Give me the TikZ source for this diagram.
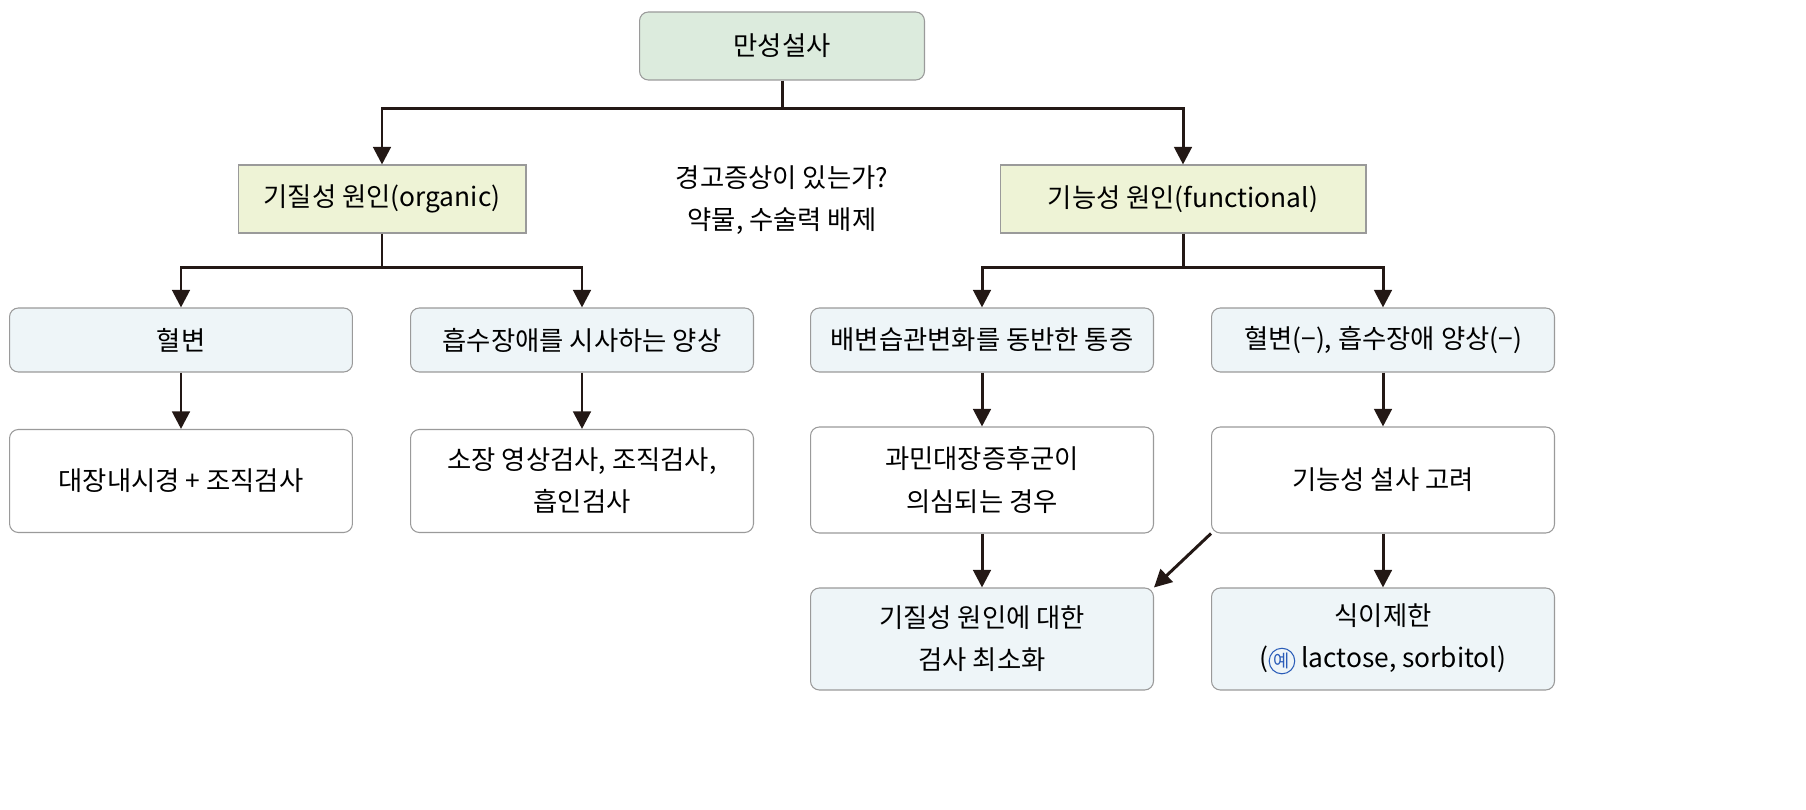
\documentclass[tikz,border=0pt]{standalone}
\usepackage{fontspec}
\setmainfont{Noto Sans CJK KR}
\usetikzlibrary{arrows.meta,calc}
\definecolor{topgreen}{HTML}{DCEBDD}
\definecolor{causeyel}{HTML}{EEF3D6}
\definecolor{stepblue}{HTML}{EEF5F8}
\definecolor{linedark}{HTML}{231815}
\definecolor{boxgray}{HTML}{9A9A9A}
\definecolor{markblue}{HTML}{2A5CB8}
\newsavebox\exmark
\savebox\exmark{\tikz[baseline=(m.base)]\node[circle,draw=markblue,text=markblue,line width=0.6pt,inner sep=0.6pt,font=\fontsize{10}{10}\selectfont] (m) {예};}
\tikzset{
  box/.style={draw=boxgray,line width=0.6pt,rounded corners=5pt,align=center,
    font=\fontsize{15}{24}\selectfont,inner sep=0pt},
  flow/.style={draw=linedark,line width=1.7pt,-{Triangle[length=10pt,width=10pt]}}
}
\begin{document}
\begin{tikzpicture}[x=0.02cm,y=-0.02cm]
  \useasboundingbox (0,0) rectangle (1806,810);
  % top and causes
  \node[box,fill=topgreen,minimum width=5.7cm,minimum height=1.36cm] (top) at (782,46) {만성설사};
  \node[box,fill=causeyel,rounded corners=0pt,minimum width=5.76cm,minimum height=1.36cm] (org) at (382,199) {기질성 원인(organic)};
  \node[box,fill=causeyel,rounded corners=0pt,minimum width=7.32cm,minimum height=1.36cm] (fun) at (1183,199) {기능성 원인(functional)};
  \node[align=center,font=\fontsize{15}{24}\selectfont] (warn) at (782,200) {경고증상이 있는가?\\약물, 수술력 배제};
  % second row
  \node[box,fill=stepblue,minimum width=6.86cm,minimum height=1.28cm] (blood) at (181,340) {혈변};
  \node[box,fill=stepblue,minimum width=6.86cm,minimum height=1.28cm] (absorb) at (582,340) {흡수장애를 시사하는 양상};
  \node[box,fill=stepblue,minimum width=6.86cm,minimum height=1.28cm] (habit) at (982,340) {배변습관변화를 동반한 통증};
  \node[box,fill=stepblue,minimum width=6.86cm,minimum height=1.28cm] (none) at (1383,340) {혈변(−), 흡수장애 양상(−)};
  % third row
  \node[box,fill=white,minimum width=6.86cm,minimum height=2.06cm] (colon) at (181,481) {대장내시경 + 조직검사};
  \node[box,fill=white,minimum width=6.86cm,minimum height=2.06cm] (small) at (582,481) {소장 영상검사, 조직검사,\\흡인검사};
  \node[box,fill=white,minimum width=6.86cm,minimum height=2.12cm] (ibs) at (982,480) {과민대장증후군이\\의심되는 경우};
  \node[box,fill=white,minimum width=6.86cm,minimum height=2.12cm] (func) at (1383,480) {기능성 설사 고려};
  % fourth row
  \node[box,fill=stepblue,minimum width=6.86cm,minimum height=2.04cm] (least) at (982,639) {기질성 원인에 대한\\검사 최소화};
  \node[box,fill=stepblue,minimum width=6.86cm,minimum height=2.04cm] (diet) at (1383,639) {식이제한\\(\usebox\exmark{} lactose, sorbitol)};
  % connectors
  \coordinate (j1) at ($(top.south)+(0,28)$);
  \coordinate (j2) at ($(org.south)+(0,34)$);
  \coordinate (j3) at ($(fun.south)+(0,34)$);
  \draw[line width=1.7pt,draw=linedark] (top.south) -- (j1);
  \draw[flow] (j1) -| (org.north);
  \draw[flow] (j1) -| (fun.north);
  \draw[line width=1.7pt,draw=linedark] (org.south) -- (j2);
  \draw[flow] (j2) -| (blood.north);
  \draw[flow] (j2) -| (absorb.north);
  \draw[line width=1.7pt,draw=linedark] (fun.south) -- (j3);
  \draw[flow] (j3) -| (habit.north);
  \draw[flow] (j3) -| (none.north);
  \draw[flow] (blood) -- (colon);
  \draw[flow] (absorb) -- (small);
  \draw[flow] (habit) -- (ibs);
  \draw[flow] (none) -- (func);
  \draw[flow] (ibs) -- (least);
  \draw[flow] (func) -- (diet);
  \draw[flow] (func.south west) -- (least.north east);
\end{tikzpicture}
\end{document}
